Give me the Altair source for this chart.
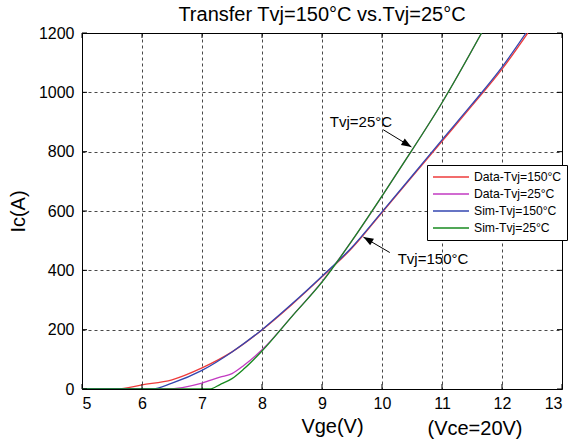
import altair as alt
import pandas as pd

FONT = "Liberation Sans"

# ---- data ----
series_names = ["Data-Tvj=150°C", "Data-Tvj=25°C", "Sim-Tvj=150°C", "Sim-Tvj=25°C"]
series_colors = ["#ee3b3b", "#c23ac2", "#3346b0", "#178a1f"]

x_d150 = [5.0, 5.58, 6.0, 6.5, 7.0, 7.5, 8.0, 8.5, 9.0, 9.5, 10.0, 10.5, 11.0, 11.5, 12.0, 12.43]
y_d150 = [0, 0, 14, 31, 71, 125, 199, 285, 378, 475, 595, 715, 835, 955, 1078, 1200]

x_d25 = [5.0, 6.41, 7.0, 7.3, 7.5, 7.7, 8.0, 8.5, 9.0, 9.5, 10.0, 10.5, 11.0, 11.66]
y_d25 = [0, 0, 20, 40, 52, 80, 132, 245, 362, 500, 650, 805, 965, 1200]

x_s150 = [5.0, 6.16, 6.5, 7.0, 7.5, 8.0, 8.5, 9.0, 9.5, 10.0, 10.5, 11.0, 11.5, 12.0, 12.4]
y_s150 = [0, 0, 20, 63, 125, 200, 287, 380, 478, 597, 718, 840, 960, 1085, 1200]

x_s25 = [5.0, 7.13, 7.3, 7.5, 7.7, 8.0, 8.5, 9.0, 9.5, 10.0, 10.5, 11.0, 11.66]
y_s25 = [0, 0, 15, 35, 68, 128, 245, 360, 500, 650, 805, 965, 1200]

x_ticks = [5, 6, 7, 8, 9, 10, 11, 12, 13]
y_ticks = [0, 200, 400, 600, 800, 1000, 1200]

ann_labels = ["Tvj=25°C", "Tvj=150°C"]
ann_x = [9.65, 10.85]
ann_y = [901, 439]
arrow_tail_x = [10.02, 10.13]
arrow_tail_y = [874, 460]
arrow_tip_x = [10.49, 9.69]
arrow_tip_y = [816, 512]

# ---- build tables ----
frames = []
for name, xv, yv in zip(series_names, [x_d150, x_d25, x_s150, x_s25], [y_d150, y_d25, y_s150, y_s25]):
    frames.append(pd.DataFrame({"Vge": xv, "Ic": yv, "series": name}))
df = pd.concat(frames, ignore_index=True)

W, H = 480, 356
xs = alt.Scale(domain=[5, 13], nice=False, zero=False)
ys = alt.Scale(domain=[0, 1200], nice=False, zero=False)
x_axis = alt.Axis(values=x_ticks, title="Vge(V)", format="d", grid=True, ticks=False, tickSize=0,
                  domain=False, labelPadding=6, titlePadding=5, titleX=250, titleAnchor="middle")
y_axis = alt.Axis(values=y_ticks, title="Ic(A)", format="d", grid=True, ticks=False, tickSize=0,
                  domain=False, labelPadding=8, titlePadding=10)


def X(field):
    return alt.X(field, scale=xs, axis=x_axis, title="Vge(V)")


def Y(field):
    return alt.Y(field, scale=ys, axis=y_axis, title="Ic(A)")


lines = alt.Chart(df).mark_line(strokeWidth=1.3, interpolate="monotone", clip=True).encode(
    x=X("Vge:Q"),
    y=Y("Ic:Q"),
    color=alt.Color("series:N", sort=series_names,
                    scale=alt.Scale(domain=series_names, range=series_colors),
                    legend=alt.Legend(title=None, orient="none", legendX=345, legendY=132,
                                      fillColor="white", strokeColor="black", padding=5,
                                      cornerRadius=0, symbolType="M-1,0H5", symbolSize=144,
                                      symbolStrokeWidth=1.3, labelFont=FONT, labelFontSize=12.2,
                                      labelColor="black", rowPadding=3, labelOffset=28)),
)

xt = pd.DataFrame({"v": x_ticks})
yt = pd.DataFrame({"v": y_ticks})
tick_x_b = alt.Chart(xt).mark_rule(color="black", strokeWidth=1).encode(
    x=X("v:Q"), y=alt.value(H), y2=alt.value(H - 5))
tick_x_t = alt.Chart(xt).mark_rule(color="black", strokeWidth=1).encode(
    x=X("v:Q"), y=alt.value(0), y2=alt.value(5))
tick_y_l = alt.Chart(yt).mark_rule(color="black", strokeWidth=1).encode(
    y=Y("v:Q"), x=alt.value(0), x2=alt.value(5))
tick_y_r = alt.Chart(yt).mark_rule(color="black", strokeWidth=1).encode(
    y=Y("v:Q"), x=alt.value(W), x2=alt.value(W - 5))

ann = pd.DataFrame({"x": ann_x, "y": ann_y, "label": ann_labels})
ann_text = alt.Chart(ann).mark_text(font=FONT, fontSize=15, align="center", baseline="middle",
                                    color="black").encode(
    x=X("x:Q"), y=Y("y:Q"), text="label:N")

arr = pd.DataFrame({
    "x": arrow_tail_x + arrow_tip_x,
    "y": arrow_tail_y + arrow_tip_y,
    "id": [0, 1, 0, 1],
    "o": [0, 0, 1, 1],
})
arrow_lines = alt.Chart(arr).mark_line(color="black", strokeWidth=1).encode(
    x=X("x:Q"), y=Y("y:Q"), detail="id:N", order="o:Q")

head_path = "M0,0L-2,-0.75L-2,0.75Z"
tips = pd.DataFrame({"x": arrow_tip_x, "y": arrow_tip_y})
head1 = alt.Chart(tips.iloc[[0]]).mark_point(shape=head_path, filled=True, size=100, angle=31,
                                             color="black", opacity=1).encode(
    x=X("x:Q"), y=Y("y:Q"))
head2 = alt.Chart(tips.iloc[[1]]).mark_point(shape=head_path, filled=True, size=100, angle=210,
                                             color="black", opacity=1).encode(
    x=X("x:Q"), y=Y("y:Q"))

vce = alt.Chart(pd.DataFrame({"x": [11.55], "t": ["(Vce=20V)"]})).mark_text(
    font=FONT, fontSize=20, align="center", baseline="middle", color="black").encode(
    x=X("x:Q"), y=alt.value(H + 40), text="t:N")

chart = alt.layer(lines, tick_x_b, tick_x_t, tick_y_l, tick_y_r, arrow_lines, head1, head2,
                  ann_text, vce).properties(
    width=W, height=H,
    title=alt.Title("Transfer Tvj=150°C vs.Tvj=25°C", font=FONT, fontSize=20, fontWeight="normal",
                    color="black", anchor="middle", offset=7, dy=7),
    autosize=alt.AutoSizeParams(type="none"),
    padding={"left": 82, "top": 33, "right": 18, "bottom": 56},
    background="white",
).configure_view(stroke="black", strokeWidth=1).configure_axis(
    labelFont=FONT, labelFontSize=16, labelColor="black", titleFont=FONT, titleFontSize=20,
    titleFontWeight="normal", titleColor="black", gridColor="black", gridDash=[3, 3],
    gridWidth=0.8, gridOpacity=0.9,
)

chart.save("out.html", embed_options={"renderer": "svg", "actions": False})
